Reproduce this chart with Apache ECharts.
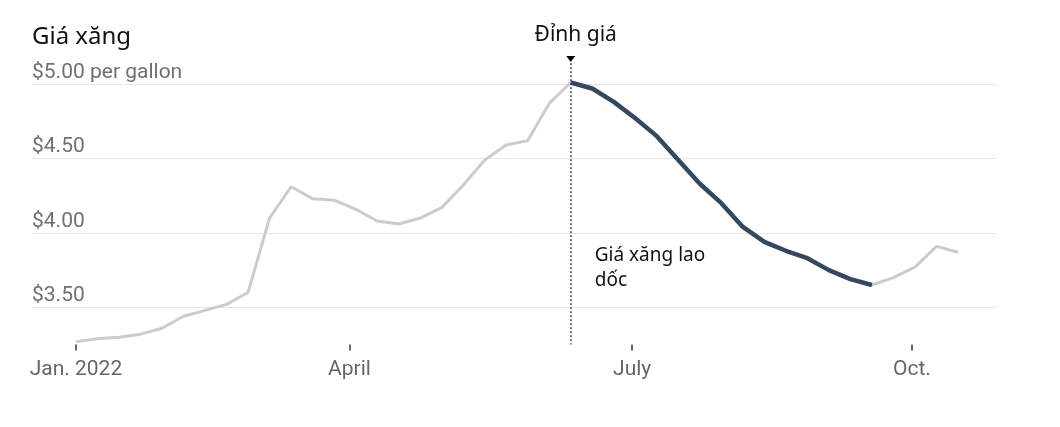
<!DOCTYPE html>
<html>
<head>
<meta charset="utf-8">
<script src="https://cdn.jsdelivr.net/npm/echarts@6/dist/echarts.min.js"></script>
<style>
    html, body { margin: 0; padding: 0; background: #fff; }
    #gasPrice { width: 1060px; height: 427px; }
</style>
</head>
<body>
<div id="gasPrice"></div>
<script>
// tuần (thứ Hai) từ 3/1/2022 đến 17/10/2022
var weeks = [
    '2022-01-03', '2022-01-10', '2022-01-17', '2022-01-24', '2022-01-31',
    '2022-02-07', '2022-02-14', '2022-02-21', '2022-02-28',
    '2022-03-07', '2022-03-14', '2022-03-21', '2022-03-28',
    '2022-04-04', '2022-04-11', '2022-04-18', '2022-04-25',
    '2022-05-02', '2022-05-09', '2022-05-16', '2022-05-23', '2022-05-30',
    '2022-06-06', '2022-06-13', '2022-06-20', '2022-06-27',
    '2022-07-04', '2022-07-11', '2022-07-18', '2022-07-25',
    '2022-08-01', '2022-08-08', '2022-08-15', '2022-08-22', '2022-08-29',
    '2022-09-05', '2022-09-12', '2022-09-19', '2022-09-26',
    '2022-10-03', '2022-10-10', '2022-10-17'
];
// giá xăng, USD / gallon
var prices = [
    3.27, 3.29, 3.30, 3.32, 3.36,
    3.44, 3.48, 3.52, 3.60,
    4.10, 4.31, 4.23, 4.22,
    4.16, 4.08, 4.06, 4.10,
    4.17, 4.32, 4.49, 4.59, 4.62,
    4.87, 5.01, 4.97, 4.88,
    4.77, 4.65, 4.49, 4.33,
    4.20, 4.04, 3.94, 3.88, 3.83,
    3.75, 3.69, 3.65, 3.70,
    3.77, 3.91, 3.87
];
var peakWeek = '2022-06-13';
var troughWeek = '2022-09-19';

var xTickDates = ['2022-01-03', '2022-04-02', '2022-07-03', '2022-10-02'];
var xTickLabels = ['Jan. 2022', 'April', 'July', 'Oct.'];
var yTickValues = [3.5, 4, 4.5, 5];
var yTickLabels = ['$3.50', '$4.00', '$4.50', '$5.00 per gallon'];

var DAY = 86400000;
// số ngày tính từ tuần đầu tiên
function dayOf(s) {
    return (Date.parse(s + 'T00:00:00Z') - Date.parse(weeks[0] + 'T00:00:00Z')) / DAY;
}

var allData = [];
var dropData = [];
var peakIdx = weeks.indexOf(peakWeek);
var troughIdx = weeks.indexOf(troughWeek);
for (var i = 0; i < weeks.length; i++) {
    allData.push([dayOf(weeks[i]), prices[i]]);
    if (i >= peakIdx && i <= troughIdx) {
        dropData.push([dayOf(weeks[i]), prices[i]]);
    }
}
var xTicks = xTickDates.map(dayOf);

var myChart = echarts.init(document.getElementById('gasPrice'), null, {width: 1060, height: 427});
var option = {
    animation: false,
    title: {
        text: 'Giá xăng',
        left: 32,
        top: 25,
        padding: 0,
        textStyle: {
            fontFamily: 'Noto Sans',
            fontSize: 24,
            fontWeight: 'normal',
            color: '#111'
        }
    },
    grid: {
        left: 32,
        right: 63,
        top: 46.8,
        bottom: 82.4
    },
    xAxis: {
        type: 'value',
        min: -14.3,
        max: dayOf(weeks[weeks.length - 1]) + 12.7,
        axisLine: {show: false},
        splitLine: {show: false},
        axisTick: {
            show: true,
            customValues: xTicks,
            length: 6,
            lineStyle: {color: '#333', width: 1.5}
        },
        axisLabel: {
            customValues: xTicks,
            margin: 15,
            fontFamily: 'Roboto',
            fontSize: 21,
            color: '#666',
            formatter: function (val) {
                var k = xTicks.indexOf(val);
                return k >= 0 ? xTickLabels[k] : '';
            }
        }
    },
    yAxis: {
        type: 'value',
        min: 3.25,
        max: 5.25,
        interval: 0.25,
        axisLine: {show: false},
        axisTick: {show: false},
        splitLine: {
            show: true,
            // chỉ hiện đường lưới ở các mức 0.5
            lineStyle: {color: ['transparent', '#e6e6e6'], width: 1}
        },
        axisLabel: {
            inside: true,
            margin: 0,
            align: 'left',
            verticalAlign: 'bottom',
            padding: [0, 0, 1, 0],
            fontFamily: 'Roboto',
            fontSize: 21,
            color: '#707070',
            formatter: function (val) {
                for (var j = 0; j < yTickValues.length; j++) {
                    if (Math.abs(val - yTickValues[j]) < 1e-6) {
                        return yTickLabels[j];
                    }
                }
                return '';
            }
        }
    },
    series: [
        {
            name: 'Giá xăng',
            type: 'line',
            data: allData,
            showSymbol: false,
            symbol: 'none',
            lineStyle: {color: '#cccccc', width: 3},
            z: 2
        },
        {
            name: 'Giá xăng lao dốc',
            type: 'line',
            data: dropData,
            showSymbol: false,
            symbol: 'none',
            lineStyle: {color: '#34495e', width: 4.5},
            z: 3,
            markLine: {
                silent: true,
                symbol: ['none', 'none'],
                label: {show: false},
                lineStyle: {color: '#444', type: [2, 2], width: 1.5},
                data: [
                    [
                        {coord: [dayOf(peakWeek), 5.14]},
                        {coord: [dayOf(peakWeek), 3.25]}
                    ]
                ]
            },
            markPoint: {
                silent: true,
                data: [
                    {
                        coord: [dayOf(peakWeek), 5.168],
                        symbol: 'triangle',
                        symbolRotate: 180,
                        symbolSize: [9, 6],
                        itemStyle: {color: '#000'},
                        label: {
                            show: true,
                            position: 'top',
                            distance: 10,
                            offset: [5, 0],
                            formatter: 'Đỉnh giá',
                            fontFamily: 'Noto Sans',
                            fontSize: 21,
                            color: '#111'
                        }
                    },
                    {
                        coord: [dayOf(peakWeek), 3.764],
                        symbol: 'circle',
                        symbolSize: 0,
                        label: {
                            show: true,
                            position: 'right',
                            distance: 24,
                            align: 'left',
                            formatter: 'Giá xăng lao\ndốc',
                            fontFamily: 'Noto Sans',
                            fontSize: 19,
                            lineHeight: 25,
                            color: '#111'
                        }
                    }
                ]
            }
        }
    ]
};
myChart.setOption(option, false);
</script>
</body>
</html>
